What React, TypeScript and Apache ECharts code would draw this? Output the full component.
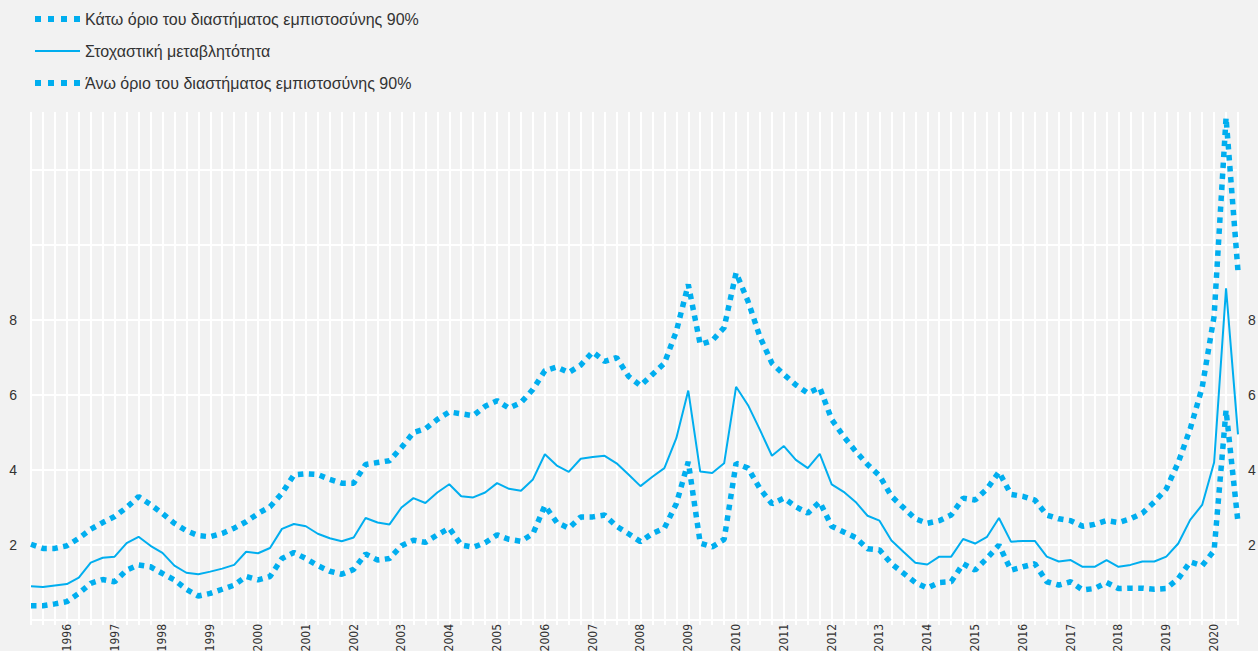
import React, { useEffect, useRef } from "react";
import * as echarts from "echarts";

const firstYear = 1995;
const firstQuarter = 2;
const pointCount = 102;

const yearLabels = ["1996","1997","1998","1999","2000","2001","2002","2003","2004","2005","2006","2007","2008","2009","2010","2011","2012","2013","2014","2015","2016","2017","2018","2019","2020"];

const yTickLabels = [2, 4, 6, 8];

const lowerBound = [
  0.38, 0.38, 0.43, 0.49, 0.71, 0.98, 1.08, 1.02, 1.33, 1.47,
  1.42, 1.24, 1.07, 0.82, 0.64, 0.71, 0.82, 0.93, 1.16, 1.07,
  1.16, 1.64, 1.8, 1.64, 1.45, 1.3, 1.22, 1.35, 1.76, 1.6,
  1.64, 1.98, 2.13, 2.07, 2.27, 2.45, 2.0, 1.94, 2.06, 2.27,
  2.15, 2.1, 2.3, 3.05, 2.6, 2.45, 2.75, 2.75, 2.8, 2.5,
  2.3, 2.09, 2.31, 2.45, 3.1, 4.22, 2.05, 1.95, 2.15, 4.18,
  4.05, 3.5, 3.1, 3.25, 3.02, 2.85, 3.15, 2.5, 2.35, 2.2,
  1.9, 1.87, 1.5, 1.25, 1.0, 0.85, 1.0, 1.02, 1.5, 1.33,
  1.65, 2.0, 1.33, 1.42, 1.5, 1.02, 0.93, 1.02, 0.8, 0.84,
  1.0, 0.84, 0.85, 0.85, 0.82, 0.84, 1.1, 1.55, 1.45, 1.85,
  5.6, 2.6
];

const stochasticVol = [
  0.9, 0.88, 0.92, 0.96, 1.13, 1.53, 1.66, 1.69, 2.05, 2.22,
  1.98, 1.79, 1.45, 1.26, 1.22, 1.29, 1.37, 1.47, 1.82, 1.78,
  1.92, 2.43, 2.56, 2.5, 2.3, 2.18, 2.1, 2.2, 2.72, 2.6,
  2.55, 3.0, 3.25, 3.12, 3.4, 3.62, 3.3, 3.27, 3.4, 3.65,
  3.5, 3.45, 3.75, 4.42, 4.12, 3.95, 4.3, 4.35, 4.38, 4.18,
  3.88, 3.57, 3.82, 4.05, 4.85, 6.12, 3.96, 3.92, 4.18, 6.22,
  5.73, 5.07, 4.38, 4.64, 4.27, 4.05, 4.43, 3.62, 3.42, 3.15,
  2.78, 2.65, 2.12, 1.82, 1.53, 1.48, 1.69, 1.69, 2.16, 2.04,
  2.22, 2.72, 2.09, 2.11, 2.11, 1.69, 1.56, 1.6, 1.42, 1.42,
  1.6, 1.42, 1.47, 1.56, 1.56, 1.69, 2.04, 2.67, 3.07, 4.2,
  8.85, 4.95
];

const upperBound = [
  2.02, 1.91, 1.91, 1.98, 2.18, 2.42, 2.6, 2.76, 3.0, 3.29,
  3.08, 2.84, 2.58, 2.38, 2.25, 2.22, 2.31, 2.45, 2.62, 2.84,
  3.02, 3.38, 3.87, 3.9, 3.88, 3.75, 3.65, 3.65, 4.15, 4.2,
  4.25, 4.6, 5.0, 5.1, 5.35, 5.55, 5.5, 5.45, 5.7, 5.85,
  5.65, 5.8, 6.15, 6.65, 6.75, 6.6, 6.8, 7.15, 6.9, 7.0,
  6.5, 6.25, 6.55, 6.85, 7.7, 8.95, 7.35, 7.45, 7.8, 9.26,
  8.5, 7.55, 6.85, 6.55, 6.27, 6.05, 6.2, 5.35, 4.9, 4.5,
  4.15, 3.85, 3.3, 3.0, 2.7, 2.58, 2.65, 2.8, 3.25, 3.2,
  3.5, 3.95, 3.35, 3.3, 3.2, 2.8, 2.7, 2.65, 2.5, 2.55,
  2.65, 2.6, 2.7, 2.85, 3.15, 3.5, 4.2, 5.1, 6.2, 8.1,
  13.4, 9.3
];

const seriesNames = [
  "Κάτω όριο του διαστήματος εμπιστοσύνης 90%",
  "Στοχαστική μεταβλητότητα",
  "Άνω όριο του διαστήματος εμπιστοσύνης 90%"
];

const categories: string[] = [];
for (let i = 0; i < pointCount; i++) {
  const q = firstQuarter - 1 + i;
  categories.push(`${firstYear + Math.floor(q / 4)}Q${(q % 4) + 1}`);
}

const BLUE = "#00aeef";
const TEXT = "#333333";
const FONT = "'Liberation Sans', Arial, sans-serif";
const DOT_ICON = "path://M0,0h6v6h-6zM13,0h6v6h-6zM26,0h6v6h-6zM39,0h6v6h-6z";
const LINE_ICON = "path://M0,0h45v2h-45z";

export default function App() {
  const ref = useRef<HTMLDivElement>(null);
  useEffect(() => {
    document.body.style.margin = "0";
    document.body.style.background = "#f2f2f2";
    const chart = echarts.init(ref.current!, null, { renderer: "svg" });
    const dotted = { color: BLUE, width: 5.5, type: [5.5, 5.5], cap: "butt" };
    const yLabelFmt = (v: number) => (yTickLabels.includes(v) ? String(v) : "");
    chart.setOption({
      animation: false,
      backgroundColor: "#f2f2f2",
      legend: {
        orient: "vertical",
        left: 30,
        top: 6,
        itemWidth: 45,
        itemHeight: 14,
        itemGap: 16,
        symbolKeepAspect: true,
        textStyle: { color: TEXT, fontSize: 16, fontFamily: FONT },
        data: [
          { name: seriesNames[0], icon: DOT_ICON },
          { name: seriesNames[1], icon: LINE_ICON },
          { name: seriesNames[2], icon: DOT_ICON },
        ],
      },
      grid: { left: 31, right: 20, top: 112, bottom: 31, containLabel: false, outerBoundsMode: "none" },
      xAxis: {
        type: "category",
        data: categories,
        boundaryGap: false,
        axisLine: { show: false },
        axisTick: { show: true, interval: 0, length: 5, lineStyle: { color: "#ffffff", width: 2 } },
        splitLine: { show: true, interval: 0, lineStyle: { color: "#ffffff", width: 2 } },
        axisLabel: {
          interval: (i: number) => i >= 3 && (i - 3) % 4 === 0,
          rotate: 90,
          margin: 4,
          color: TEXT,
          fontSize: 12,
          fontFamily: "'DejaVu Sans Condensed', 'Liberation Sans Narrow', sans-serif",
          formatter: (v: string) => {
            const y = v.slice(0, 4);
            return yearLabels.includes(y) ? y : "";
          },
        },
      },
      yAxis: [
        {
          type: "value",
          min: 0,
          max: 13.55,
          interval: 2,
          position: "left",
          axisLine: { show: false },
          axisTick: { show: false },
          splitLine: { show: true, showMaxLine: false, lineStyle: { color: "#ffffff", width: 2 } },
          axisLabel: { color: TEXT, fontSize: 14, fontFamily: FONT, margin: 14, formatter: yLabelFmt, showMaxLabel: false },
        },
        {
          type: "value",
          min: 0,
          max: 13.55,
          interval: 2,
          position: "right",
          axisLine: { show: false },
          axisTick: { show: false },
          splitLine: { show: false },
          axisLabel: { color: TEXT, fontSize: 14, fontFamily: FONT, margin: 10, formatter: yLabelFmt, showMaxLabel: false },
        },
      ],
      series: [
        { name: seriesNames[0], type: "line", data: lowerBound, symbol: "none", lineStyle: dotted, itemStyle: { color: BLUE }, z: 3 },
        { name: seriesNames[1], type: "line", data: stochasticVol, symbol: "none", lineStyle: { color: BLUE, width: 2 }, itemStyle: { color: BLUE }, z: 4 },
        { name: seriesNames[2], type: "line", data: upperBound, symbol: "none", lineStyle: dotted, itemStyle: { color: BLUE }, z: 3 },
      ],
    });
    return () => chart.dispose();
  }, []);
  return <div ref={ref} style={{ width: 1258, height: 651, background: "#f2f2f2" }} />;
}
